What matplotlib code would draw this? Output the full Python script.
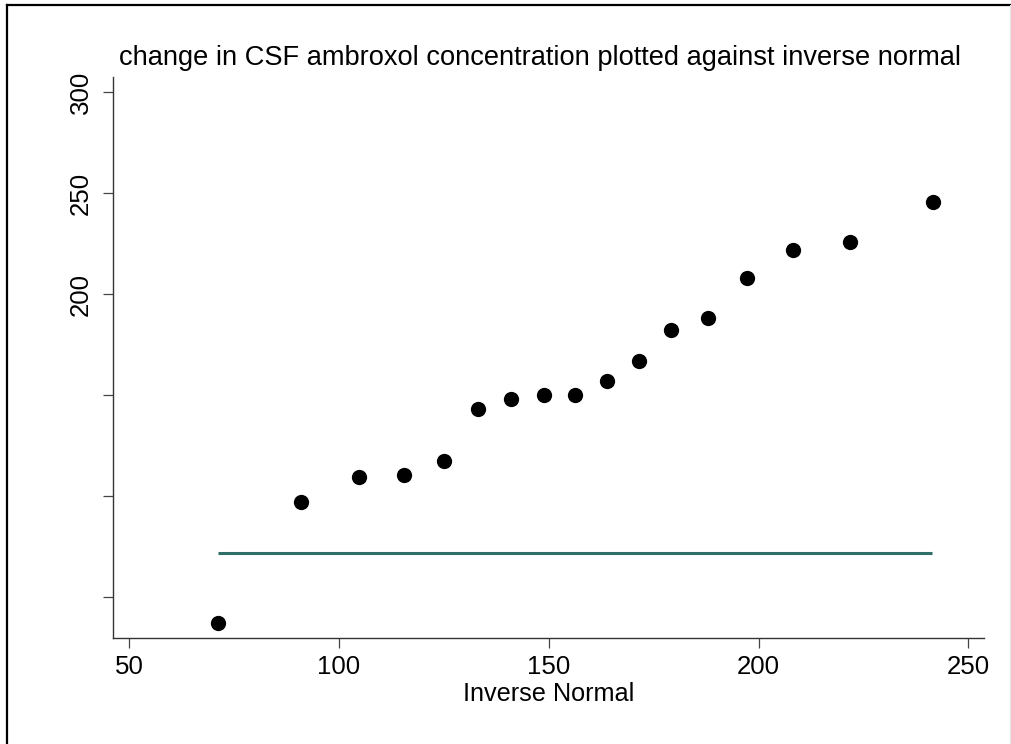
import matplotlib
matplotlib.use("Agg")
import matplotlib.pyplot as plt
from matplotlib.lines import Line2D

# values
inv_normal = [71.2, 91.0, 104.7, 115.5, 125.0, 133.2, 141.1, 148.8, 156.3,
              163.8, 171.6, 179.1, 187.9, 197.2, 208.2, 221.7, 241.5]
csf_change = [37.0, 96.7, 109.1, 110.1, 117.1, 142.9, 147.8, 150.0, 150.0,
              156.9, 167.0, 182.2, 188.0, 207.8, 221.9, 226.0, 245.8]
ref_x = [71.2, 241.3]
ref_y = [71.4, 71.4]

xticks = [50, 100, 150, 200, 250]
yticks = [50, 100, 150, 200, 250, 300]
ylabels = ["", "", "", "200", "250", "300"]

title = "change in CSF ambroxol concentration plotted against inverse normal"
xlabel = "Inverse Normal"


def main():
    plt.rcParams['font.family'] = ['Liberation Sans', 'DejaVu Sans']
    fig = plt.figure(figsize=(10.11, 7.44), dpi=100)
    ax = fig.add_axes([0.1121, 0.1421, 0.8615, 0.7548])

    ax.plot(ref_x, ref_y, color='#2f6f68', lw=2.2, solid_capstyle='butt')
    ax.plot(inv_normal, csf_change, 'o', color='black', markersize=11,
            markeredgewidth=0)

    ax.set_xlim(46.2, 253.8)
    ax.set_ylim(29.3, 307.8)
    ax.set_xticks(xticks)
    ax.set_yticks(yticks)
    ax.set_yticklabels(ylabels, rotation=90, va='center')

    for side in ['top', 'right']:
        ax.spines[side].set_visible(False)
    for side in ['left', 'bottom']:
        ax.spines[side].set_color('#333333')
        ax.spines[side].set_linewidth(1.0)
    ax.tick_params(axis='both', length=7.2, width=0.9, color='#444444',
                   labelsize=18.6, labelcolor='black')
    ax.tick_params(axis='x', pad=5)
    ax.tick_params(axis='y', pad=7.5)

    ax.set_xlabel(xlabel, fontsize=18.2, labelpad=2)
    fig.text(119 / 1011, 1 - 65 / 744, title, fontsize=19.6,
             ha='left', va='baseline')

    # outer frame like the graph window border
    fig.add_artist(Line2D([6.7 / 1011, 1.0], [1 - 5 / 744, 1 - 5 / 744],
                          transform=fig.transFigure, color='black', lw=1.6))
    fig.add_artist(Line2D([6.7 / 1011, 6.7 / 1011], [0.0, 1 - 5 / 744],
                          transform=fig.transFigure, color='black', lw=1.6))
    fig.add_artist(Line2D([1009.5 / 1011, 1009.5 / 1011], [0.0, 1 - 5 / 744],
                          transform=fig.transFigure, color='#e4e4e4', lw=0.8))

    fig.savefig('out.png', dpi=100)


if __name__ == '__main__':
    main()
